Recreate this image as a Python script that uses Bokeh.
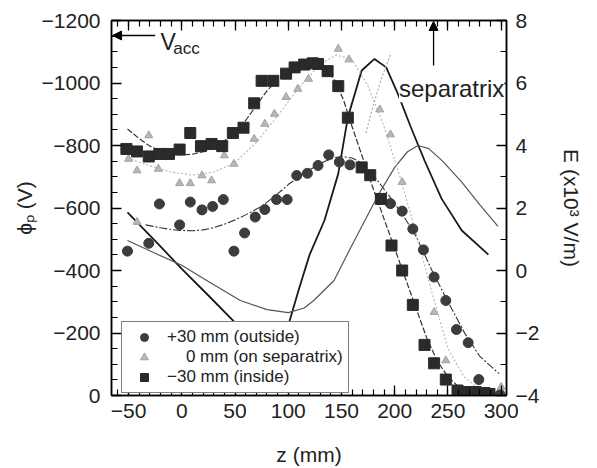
from bokeh.plotting import figure
from bokeh.models import (Range1d, LinearAxis, Legend, LegendItem, Label, Arrow,
                          NormalHead, FixedTicker)
from bokeh.embed import file_html
from bokeh.resources import INLINE

FONT = "Liberation Sans"

# ---- data: plasma potential (left axis, V) ----
circ_z = [-51, -31, -21, -2, 8, 19, 29, 39, 49, 59, 69, 78, 89, 99, 108, 118, 128, 138, 148, 158,
          196, 207, 217, 227, 237, 248, 258, 269, 279, 299]
circ_phi = [-462, -487, -613, -546, -619, -594, -605, -627, -462, -520, -571, -595, -627, -627, -704,
            -711, -736, -770, -747, -738, -614, -590, -533, -466, -379, -304, -211, -169, -51, -3]

tri_z = [-50, -42, -42, -31, -22, -2, 8, 19, 28, 40, 49, 68, 78, 87, 98, 109, 119, 147, 157,
         186, 196, 207, 237, 248, 300]
tri_phi = [-757, -720, -555, -832, -725, -679, -679, -704, -688, -768, -741, -821, -869, -901, -955,
           -981, -1013, -1109, -1075, -915, -835, -683, -267, -112, -27]

sq_z = [-52, -42, -31, -21, -12, -2, 8, 18, 28, 38, 48, 58, 68, 75, 86, 98, 106, 115, 123, 128,
        137, 147, 156, 169, 177, 187, 197, 207, 217, 228, 237, 248, 259, 268, 276, 284, 289]
sq_phi = [-789, -781, -765, -773, -773, -787, -840, -798, -805, -798, -840, -857, -935, -1007, -1007,
          -1030, -1050, -1059, -1063, -1061, -1038, -990, -889, -730, -705, -629, -480, -400, -290,
          -162, -103, -51, -16, -11, -11, -8, -5]

# fitted potential curves (left axis)
sqfit_z = [-51, -40, -30, -20, -10, 0, 10, 20, 30, 40, 50, 60, 70, 80, 90, 100, 110, 120, 128, 137,
           145, 152, 160, 170, 180, 190, 200, 210, 220, 230, 240, 250, 260, 270, 280, 292]
sqfit_phi = [-853, -822, -798, -782, -773, -770, -772, -780, -795, -815, -842, -880, -928, -975, -1010,
             -1035, -1052, -1062, -1062, -1042, -1000, -945, -860, -760, -660, -565, -470, -375, -280,
             -185, -110, -60, -28, -12, -5, -2]

cfit_z = [-34, -20, -10, 0, 10, 20, 30, 40, 50, 60, 75, 90, 100, 110, 120, 130, 140, 150, 160, 170,
          180, 190, 200, 210, 220, 235, 250, 266, 280, 298]
cfit_phi = [-546, -537, -531, -528, -527, -530, -537, -548, -562, -578, -605, -645, -675, -700, -722,
            -742, -758, -765, -760, -742, -705, -660, -615, -565, -510, -400, -300, -198, -125, -70]

tfit_z = [-51, -30, -10, 10, 30, 50, 70, 90, 110, 130, 145, 160, 175, 190, 205, 220, 235, 250, 265,
          280, 298]
tfit_phi = [-760, -735, -715, -705, -715, -745, -810, -895, -985, -1060, -1090, -1075, -990, -860,
            -700, -520, -330, -150, -60, -20, -5]

# ---- data: electric field (right axis, x10^3 V/m) ----
e1_z = [-51, -25, 0, 25, 51, 65, 78, 88, 95, 100, 110, 120, 134, 147, 156, 169, 181, 192, 203, 215,
        228, 244, 263, 288]
e1_E = [1.86, 0.95, 0.05, -0.8, -1.7, -2.3, -2.9, -3.1, -2.6, -1.76, -0.6, 0.5, 1.6, 3.1, 4.9, 6.4,
        6.77, 6.5, 5.65, 4.6, 3.52, 2.3, 1.28, 0.51]

e2_z = [-51, -25, 0, 25, 55, 80, 100, 115, 124, 143, 159, 172, 185, 200, 212, 222, 232, 245, 263,
        280, 297]
e2_E = [0.96, 0.55, 0.17, -0.35, -0.96, -1.25, -1.35, -1.2, -0.96, -0.32, 0.75, 1.6, 2.45, 3.3, 3.8,
        4.0, 3.9, 3.5, 2.83, 2.1, 1.41]

e3_z = [173, 180, 188, 196]
e3_E = [4.4, 5.3, 6.2, 6.9]

x_ticks = [-50, 0, 50, 100, 150, 200, 250, 300]
y_ticks = [-1200, -1000, -800, -600, -400, -200, 0]
e_ticks = [-4, -2, 0, 2, 4, 6, 8]

p = figure(frame_width=395, frame_height=375, output_backend="svg", toolbar_location=None,
           x_range=Range1d(-66, 305), y_range=Range1d(0, -1200),
           min_border_left=111, min_border_right=90, min_border_top=20, min_border_bottom=72)
p.extra_y_ranges = {"E": Range1d(-4, 8)}
p.xgrid.visible = False
p.ygrid.visible = False
p.outline_line_color = "black"
p.outline_line_width = 1.5
p.background_fill_color = "white"
p.border_fill_color = "white"


def style_axis(ax, ticks, minor, tick_in, minor_in):
    ax.ticker = FixedTicker(ticks=ticks, minor_ticks=minor)
    ax.major_tick_in = tick_in
    ax.major_tick_out = 0
    ax.minor_tick_in = minor_in
    ax.minor_tick_out = 0
    ax.axis_line_color = "black"
    ax.axis_line_width = 1.5
    ax.major_tick_line_width = 1.3
    ax.minor_tick_line_width = 1.2
    ax.major_label_text_font = FONT
    ax.major_label_text_font_size = "21px"
    ax.major_label_text_color = "#222222"
    ax.axis_label_text_font = FONT
    ax.axis_label_text_font_style = "normal"
    ax.axis_label_text_font_size = "21px"
    ax.axis_label_text_color = "#222222"


xminor = list(range(-60, 306, 10))
yminor = list(range(-1200, 1, 50))
eminor = list(range(-4, 9, 1))

xa = p.xaxis[0]
style_axis(xa, x_ticks, xminor, 10, 6)
xa.axis_label = "z (mm)"
xa.major_label_standoff = 8
xa.axis_label_standoff = 22

ya = p.yaxis[0]
style_axis(ya, y_ticks, yminor, 10, 6)
ya.axis_label = "ϕₚ (V)"
ya.major_label_standoff = 11
ya.axis_label_standoff = 3

ra = LinearAxis(y_range_name="E")
style_axis(ra, e_ticks, eminor, 10, 6)
ra.axis_label = "E (x10³ V/m)"
ra.major_label_standoff = 9
ra.axis_label_standoff = 18
p.add_layout(ra, "right")

ta = LinearAxis()
style_axis(ta, x_ticks, xminor, 10, 6)
ta.major_label_text_font_size = "0px"
ta.major_label_standoff = 0
p.add_layout(ta, "above")

# ---- lines ----
p.line(e1_z, e1_E, y_range_name="E", line_color="#1a1a1a", line_width=1.8)
p.line(e2_z, e2_E, y_range_name="E", line_color="#555555", line_width=1.2)
p.line(e3_z, e3_E, y_range_name="E", line_color="#aaaaaa", line_width=1.2, line_dash="2 2")
p.line(sqfit_z, sqfit_phi, line_color="#333333", line_width=1.2, line_dash="6 2")
p.line(cfit_z, cfit_phi, line_color="#333333", line_width=1.1, line_dash="8 2 2 2")
p.line(tfit_z, tfit_phi, line_color="#b5b5b5", line_width=1.1, line_dash="2 2")

# ---- markers ----
rc = p.scatter(circ_z, circ_phi, marker="circle", size=10, fill_color="#3c3c3c", line_color="#3c3c3c")
rt = p.scatter(tri_z, tri_phi, marker="triangle", size=8, fill_color="#b8b8b8", line_color="#a0a0a0")
rs = p.scatter(sq_z, sq_phi, marker="square", size=11, fill_color="#2a2a2a", line_color="#2a2a2a")

legend = Legend(items=[LegendItem(label="+30 mm (outside)", renderers=[rc]),
                       LegendItem(label="\u2007\u20070 mm (on separatrix)", renderers=[rt]),
                       LegendItem(label="\u221230 mm (inside)", renderers=[rs])],
                location=(10, 2), border_line_color="black", border_line_width=1.2,
                background_fill_color="white", background_fill_alpha=1.0,
                label_text_font=FONT, label_text_font_size="17px", label_text_color="#222222",
                glyph_width=34, glyph_height=20, label_height=20, spacing=0, padding=5,
                label_standoff=6, margin=0)
p.add_layout(legend)

# ---- annotations ----
p.add_layout(Arrow(end=NormalHead(size=9, fill_color="black", line_color="black"),
                   x_start=-25, y_start=-1152, x_end=-65, y_end=-1152,
                   line_color="black", line_width=1.3))
p.add_layout(Label(x=-20, y=-1131, text="V", text_font=FONT, text_font_size="23px",
                   text_color="#222222", text_baseline="alphabetic"))
p.add_layout(Label(x=-8, y=-1110, text="acc", text_font=FONT, text_font_size="17px",
                   text_color="#222222", text_baseline="alphabetic"))
p.add_layout(Arrow(end=NormalHead(size=9, fill_color="black", line_color="black"),
                   x_start=236.5, y_start=-1056, x_end=236.5, y_end=-1197,
                   line_color="black", line_width=1.3))
p.add_layout(Label(x=204, y=-982, text="separatrix", text_font=FONT, text_font_size="24px",
                   text_color="#222222", text_baseline="alphabetic",
                   background_fill_color="white", background_fill_alpha=1.0))

open("out.html", "w").write(file_html(p, INLINE))
